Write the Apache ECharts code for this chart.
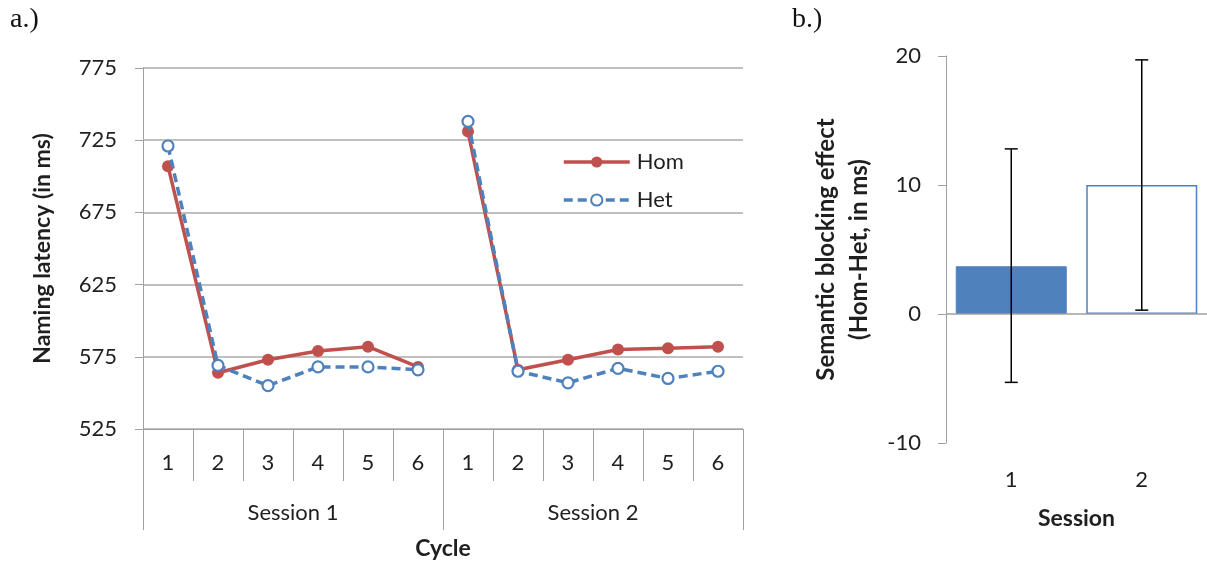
<!DOCTYPE html>
<html>
<head>
<meta charset="utf-8">
<script src="https://cdn.jsdelivr.net/npm/echarts@6/dist/echarts.min.js"></script>
<style>
  html, body { margin: 0; padding: 0; background: #fff; }
  #chart { width: 1207px; height: 567px; }
</style>
</head>
<body>
<div id="chart"></div>
<script>
// Panel a: naming latency per cycle, two sessions
const cycleLabels = ['1', '2', '3', '4', '5', '6', '1', '2', '3', '4', '5', '6'];
const sessionLabels = ['Session 1', 'Session 2'];
const homSession1 = [707, 564, 573, 579, 582, 568];
const homSession2 = [731, 566, 573, 580, 581, 582];
const hetSession1 = [721, 569, 555, 568, 568, 566];
const hetSession2 = [738, 565, 557, 567, 560, 565];
const latencyTicks = [525, 575, 625, 675, 725, 775];

// Panel b: semantic blocking effect per session with error bars
const sessionCats = ['1', '2'];
const blockingEffect = [3.7, 10.0];
const errorLow = [-5.3, 0.3];
const errorHigh = [12.8, 19.7];

const RED = '#C0504D';
const BLUE = '#4F81BD';
const AXIS = '#A0A0A0';
const GRIDLINE = '#ABABAB';
const TEXT = '#1f1f1f';
const FONT = 'Lato';

const blank = new Array(6).fill(null);

const chart = echarts.init(document.getElementById('chart'), null, { renderer: 'canvas' });

const homLine = {
  type: 'line', name: 'Hom', xAxisIndex: 0, yAxisIndex: 0,
  symbol: 'circle', symbolSize: 12,
  itemStyle: { color: RED },
  lineStyle: { color: RED, width: 3.5 },
  z: 3
};
const hetLine = {
  type: 'line', name: 'Het', xAxisIndex: 0, yAxisIndex: 0,
  symbol: 'circle', symbolSize: 11,
  itemStyle: { color: '#fff', borderColor: BLUE, borderWidth: 2.2 },
  lineStyle: { color: BLUE, width: 3.5, type: [9, 5] },
  z: 4
};

chart.setOption({
  animation: false,
  textStyle: { fontFamily: FONT },
  graphic: [
    { type: 'text', left: 10, top: 6, style: { text: 'a.)', font: '28px "Liberation Serif"', fill: '#111' } },
    { type: 'text', left: 792, top: 6, style: { text: 'b.)', font: '28px "Liberation Serif"', fill: '#111' } }
  ],
  legend: {
    orient: 'vertical',
    left: 557, top: 146,
    itemWidth: 66, itemHeight: 14, itemGap: 16, itemSymbolSize: 12,
    lineStyle: { width: 3.5 },
    textStyle: { fontSize: 22, color: TEXT, fontFamily: FONT, padding: [0, 0, 0, 2] },
    data: ['Hom', 'Het']
  },
  grid: [
    { left: 143, right: 464, top: 68, bottom: 138 },
    { left: 946, width: 266, top: 56, bottom: 124 }
  ],
  xAxis: [
    {
      gridIndex: 0, type: 'category', data: cycleLabels, position: 'bottom',
      axisLine: { lineStyle: { color: AXIS } },
      axisTick: { show: true, interval: 0, length: 52, lineStyle: { color: AXIS } },
      axisLabel: { interval: 0, margin: 23, fontSize: 22, color: TEXT }
    },
    {
      gridIndex: 0, type: 'category', data: sessionLabels, position: 'bottom',
      axisLine: { show: false },
      axisTick: { show: true, interval: 0, length: 101, lineStyle: { color: AXIS } },
      axisLabel: { interval: 0, margin: 73, fontSize: 22, color: TEXT },
      name: 'Cycle', nameLocation: 'middle', nameGap: 108,
      nameTextStyle: { fontSize: 23, fontWeight: 'bold', color: TEXT }
    },
    {
      gridIndex: 1, type: 'category', data: sessionCats,
      axisLine: { show: false, onZero: false },
      axisTick: { show: false },
      axisLabel: { margin: 26, fontSize: 22, color: TEXT },
      name: 'Session', nameLocation: 'middle', nameGap: 64,
      nameTextStyle: { fontSize: 23, fontWeight: 'bold', color: TEXT }
    }
  ],
  yAxis: [
    {
      gridIndex: 0, type: 'value', min: 525, max: 775,
      axisLine: { show: true, lineStyle: { color: AXIS } },
      axisTick: { show: true, length: 8, customValues: latencyTicks, lineStyle: { color: AXIS } },
      axisLabel: { margin: 26, fontSize: 22, color: TEXT, customValues: latencyTicks },
      splitLine: { show: true, lineStyle: { color: GRIDLINE, width: 1.5 } },
      name: 'Naming latency (in ms)', nameLocation: 'middle', nameGap: 89,
      nameTextStyle: { fontSize: 23, fontWeight: 'bold', color: TEXT }
    },
    {
      gridIndex: 1, type: 'value', min: -10, max: 20, interval: 10,
      axisLine: { show: true, lineStyle: { color: AXIS } },
      axisTick: { show: true, length: 8, lineStyle: { color: AXIS } },
      axisLabel: { margin: 25, fontSize: 22, color: TEXT },
      splitLine: { show: false },
      name: 'Semantic blocking effect\n(Hom-Het, in ms)', nameLocation: 'middle', nameGap: 70,
      nameTextStyle: { fontSize: 24, fontWeight: 'bold', color: TEXT, lineHeight: 33, align: 'center' }
    }
  ],
  series: [
    Object.assign({}, homLine, { data: homSession1.concat(blank) }),
    Object.assign({}, homLine, { data: blank.concat(homSession2) }),
    Object.assign({}, hetLine, { data: hetSession1.concat(blank) }),
    Object.assign({}, hetLine, { data: blank.concat(hetSession2) }),
    {
      type: 'bar', xAxisIndex: 2, yAxisIndex: 1, barWidth: 111,
      data: blockingEffect.map((v, i) => ({
        value: v,
        itemStyle: i === 0
          ? { color: BLUE, borderColor: BLUE, borderWidth: 1 }
          : { color: '#fff', borderColor: BLUE, borderWidth: 1.5 }
      })),
      markLine: {
        silent: true, symbol: 'none', label: { show: false },
        lineStyle: { color: AXIS, type: 'solid', width: 1.5 },
        data: [{ yAxis: 0 }]
      },
      z: 2
    },
    {
      type: 'custom', xAxisIndex: 2, yAxisIndex: 1, z: 5,
      data: blockingEffect.map((v, i) => [i, errorLow[i], errorHigh[i]]),
      renderItem(params, api) {
        const top = api.coord([api.value(0), api.value(2)]);
        const bot = api.coord([api.value(0), api.value(1)]);
        const half = 6.5;
        const style = { stroke: '#000', lineWidth: 1.5 };
        return {
          type: 'group',
          children: [
            { type: 'line', shape: { x1: top[0], y1: top[1], x2: bot[0], y2: bot[1] }, style },
            { type: 'line', shape: { x1: top[0] - half, y1: top[1], x2: top[0] + half, y2: top[1] }, style },
            { type: 'line', shape: { x1: bot[0] - half, y1: bot[1], x2: bot[0] + half, y2: bot[1] }, style }
          ]
        };
      }
    }
  ]
});
</script>
</body>
</html>
